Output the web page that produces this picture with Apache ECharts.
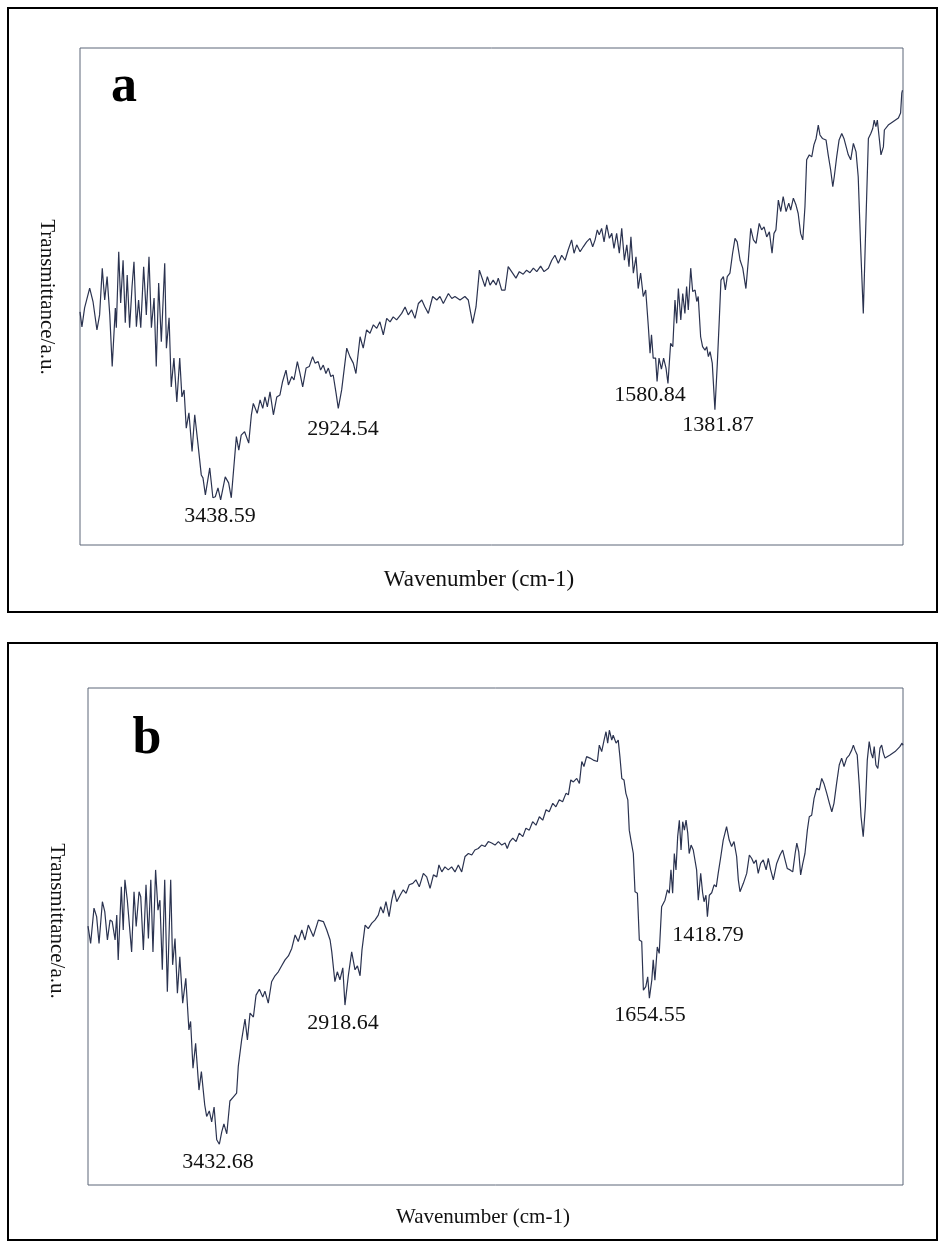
<!DOCTYPE html>
<html>
<head>
<meta charset="utf-8">
<script src="https://cdn.jsdelivr.net/npm/echarts@6/dist/echarts.min.js"></script>
<style>
html,body{margin:0;padding:0;background:#ffffff;}
#chart{width:938px;height:1245px;}
</style>
</head>
<body>
<div id="chart"></div>
<script>
// ---------- DATA ----------
// Panel a: wavenumber (cm-1) and transmittance (a.u., 0-100 across the plot box)
const waveA = [4000,3992,3981,3960,3946,3930,3919,3908,3898,3888,3877,3867,3854,3850,3840,3832,3822,3813,3805,3795,3785,3777,3767,3758,3749,3737,3726,3715,3705,3694,3685,3675,3664,3650,3643,3632,3623,3612,3600,3588,3579,3570,3561,3550,3537,3526,3513,3499,3492,3482,3464,3451,3441,3430,3419,3400,3386,3375,3354,3344,3334,3320,3303,3292,3284,3268,3256,3245,3236,3226,3215,3201,3187,3174,3163,3149,3139,3125,3116,3102,3091,3080,3066,3053,3039,3029,3016,3006,2995,2984,2974,2964,2954,2942,2933,2919,2898,2885,2871,2860,2843,2830,2816,2802,2788,2774,2761,2747,2733,2719,2706,2692,2671,2657,2644,2630,2616,2602,2588,2575,2561,2543,2526,2513,2499,2478,2464,2451,2430,2410,2396,2378,2364,2350,2327,2317,2306,2293,2281,2272,2258,2244,2231,2217,2199,2185,2169,2155,2141,2127,2113,2097,2083,2065,2051,2038,2024,2010,1996,1983,1969,1959,1948,1934,1921,1907,1893,1882,1872,1863,1855,1845,1835,1824,1813,1803,1794,1783,1772,1762,1751,1741,1732,1724,1714,1703,1694,1684,1673,1663,1652,1645,1639,1632,1622,1616,1608,1598,1589,1579,1571,1560,1551,1542,1535,1528,1518,1510,1501,1494,1487,1477,1469,1459,1452,1446,1436,1428,1418,1411,1404,1397,1388,1377,1367,1359,1352,1342,1334,1326,1315,1304,1294,1285,1273,1262,1249,1239,1229,1218,1207,1194,1184,1174,1163,1152,1141,1133,1125,1115,1105,1095,1083,1072,1064,1053,1042,1033,1023,1014,1005,998,987,977,968,959,950,943,933,925,918,909,899,890,884,874,864,853,844,836,826,816,805,794,785,775,764,753,743,733,725,719,712,706,698,691,681,677,661,640,619,610,605,602];
const transA = [46.9,43.9,47.7,51.7,48.9,43.3,46.3,55.7,49.3,54.0,46.3,35.9,47.7,43.7,59.0,48.7,57.3,44.7,54.3,43.7,52.0,57.0,43.9,49.3,43.7,56.0,46.3,58.0,43.7,49.7,35.9,52.7,40.9,56.7,39.6,45.7,31.8,37.6,28.8,37.6,29.8,31.2,23.5,26.6,18.8,26.2,20.5,14.1,13.5,10.1,15.5,9.5,9.7,11.5,9.1,13.7,12.5,9.5,21.8,19.1,22.1,22.8,20.5,26.2,28.5,26.5,29.2,27.5,29.8,27.8,30.8,26.2,29.8,30.2,32.9,35.2,32.2,33.9,33.2,36.9,34.5,31.8,35.6,35.9,37.9,36.6,36.9,35.2,36.2,34.5,35.6,33.9,34.2,30.5,27.5,31.2,39.6,37.9,36.6,34.5,41.9,39.6,43.3,42.6,44.3,43.6,44.9,42.3,45.6,44.9,45.9,45.3,46.6,47.9,46.3,47.3,45.6,48.6,49.3,47.9,46.6,50.0,49.3,50.0,48.6,50.6,49.6,50.0,49.3,50.0,49.3,44.6,47.9,55.3,52.0,54.0,52.3,53.3,52.3,53.7,51.3,51.3,56.0,55.0,53.7,55.0,54.5,55.3,54.8,55.7,55.0,56.1,55.0,55.7,57.3,58.3,56.7,58.3,57.3,59.4,61.4,58.7,60.4,59.0,60.0,61.0,61.7,60.0,61.4,63.4,62.4,63.7,61.0,64.4,61.7,62.7,59.7,62.7,58.7,63.7,57.3,60.4,56.0,62.0,54.7,58.0,51.6,54.7,50.0,51.3,43.9,38.6,42.3,37.6,37.6,32.9,37.6,35.4,37.6,35.6,32.5,40.6,39.9,49.3,44.6,51.6,45.3,50.6,46.6,52.0,47.3,55.7,51.0,51.3,49.0,50.0,41.9,39.9,39.2,39.9,37.9,38.9,36.6,27.2,36.6,45.3,53.3,54.0,51.3,54.0,54.7,58.7,61.7,61.0,57.3,55.7,51.6,57.3,63.7,61.4,60.7,64.7,63.4,64.0,62.0,63.0,58.7,62.7,63.4,69.4,67.1,70.1,67.1,68.8,67.4,69.8,68.4,66.7,62.7,61.4,68.1,77.5,78.5,78.1,80.5,81.8,84.5,82.5,81.8,82.2,81.5,78.5,75.5,72.1,74.1,78.1,81.5,82.8,81.8,81.5,78.5,77.5,80.8,79.1,74.1,60.0,46.6,65.4,81.8,82.8,83.8,85.5,84.2,85.5,81.8,78.5,80.1,83.5,84.5,85.2,85.9,86.9,90.9,91.5];

// Panel b
const waveB = [4000,3989,3975,3964,3954,3940,3930,3919,3908,3899,3887,3880,3874,3861,3853,3846,3836,3829,3818,3808,3799,3787,3780,3769,3758,3748,3738,3729,3718,3708,3700,3690,3680,3669,3655,3647,3637,3627,3617,3605,3592,3579,3572,3562,3551,3537,3527,3513,3505,3494,3484,3474,3463,3452,3442,3433,3421,3408,3394,3380,3373,3359,3345,3335,3324,3310,3299,3285,3271,3262,3248,3234,3220,3206,3192,3178,3164,3150,3136,3123,3108,3095,3081,3060,3039,3018,3004,2990,2983,2970,2960,2949,2937,2928,2914,2900,2886,2876,2865,2857,2844,2831,2816,2803,2789,2779,2768,2757,2744,2733,2723,2712,2698,2685,2673,2660,2645,2632,2618,2601,2587,2573,2559,2545,2536,2524,2511,2497,2483,2469,2455,2441,2427,2413,2399,2386,2372,2358,2344,2330,2316,2302,2288,2274,2260,2251,2240,2228,2214,2201,2186,2173,2159,2145,2131,2117,2103,2089,2076,2061,2048,2034,2020,2006,1996,1986,1975,1961,1950,1940,1931,1920,1906,1892,1875,1867,1857,1847,1839,1832,1825,1815,1809,1797,1788,1781,1773,1764,1756,1748,1742,1735,1725,1718,1708,1700,1690,1683,1673,1665,1658,1648,1642,1635,1625,1617,1607,1593,1583,1575,1568,1561,1554,1547,1540,1533,1526,1519,1512,1505,1498,1492,1484,1475,1461,1454,1444,1436,1430,1422,1416,1408,1398,1388,1379,1371,1360,1350,1336,1325,1315,1305,1294,1287,1280,1266,1252,1241,1231,1222,1213,1204,1194,1183,1171,1162,1152,1141,1127,1113,1102,1092,1083,1071,1060,1050,1043,1035,1027,1018,1009,999,991,981,971,960,949,939,930,918,907,897,888,877,866,856,846,835,824,814,807,800,791,782,775,766,757,749,741,733,726,720,713,705,696,689,682,675,654,633,613,604,600];
const transB = [52.1,48.6,55.7,54.0,48.6,57.0,55.0,49.3,53.3,53.0,49.3,54.3,45.3,60.0,51.3,61.4,57.3,57.7,46.9,59.0,52.0,59.0,58.0,47.3,60.4,49.6,61.4,46.9,63.4,55.3,57.3,43.3,61.4,38.9,61.4,44.3,49.6,38.6,45.9,36.6,41.6,31.2,32.9,23.5,28.5,19.1,22.8,16.1,13.8,14.9,12.7,15.7,9.1,8.2,10.7,12.3,10.3,16.9,17.7,18.5,23.9,29.2,33.4,29.2,34.6,33.8,38.2,39.4,37.8,39.0,36.6,40.9,42.1,42.9,44.1,45.3,46.1,47.6,50.3,49.0,51.3,49.3,52.3,50.0,53.3,53.0,51.3,49.3,46.9,40.9,42.9,41.3,43.7,36.2,42.1,46.9,43.3,44.1,42.1,47.3,52.3,51.6,52.7,53.3,54.3,56.0,54.7,57.0,54.0,57.3,59.4,57.0,58.3,59.4,58.7,60.4,60.7,61.4,60.0,62.7,62.0,59.7,62.4,62.0,64.4,63.0,64.0,63.4,64.0,63.0,64.4,63.0,66.1,66.7,66.4,67.4,67.7,68.4,68.1,69.1,68.8,68.4,69.1,68.4,68.8,67.7,69.1,69.8,69.1,70.8,70.1,71.8,71.4,73.1,72.4,74.1,73.4,75.5,75.1,76.8,76.1,77.5,77.1,78.8,78.5,81.5,81.1,81.8,80.8,85.2,84.2,86.2,85.9,85.5,85.2,88.5,87.2,89.5,91.2,88.9,91.5,89.5,90.5,88.9,89.5,86.2,81.8,81.5,78.8,77.5,71.4,69.4,66.7,59.0,58.7,49.3,49.0,39.2,39.9,41.9,37.6,41.2,45.3,41.2,47.9,46.6,56.0,57.3,59.4,58.7,63.4,58.7,66.7,63.4,70.1,73.4,67.4,73.1,71.4,73.4,70.8,66.7,68.4,67.4,63.4,57.3,62.7,58.8,57.0,58.3,54.0,58.3,58.8,60.4,60.0,62.7,66.1,69.4,72.1,69.4,68.1,69.1,66.1,61.4,59.0,60.7,62.7,66.4,65.7,64.7,65.4,62.7,64.7,65.4,63.4,65.7,63.4,61.4,64.7,66.4,67.4,65.4,63.7,63.4,63.0,66.7,68.8,67.1,62.4,64.7,66.7,71.4,74.1,74.4,77.8,79.8,79.5,81.8,80.8,78.8,76.8,75.1,76.8,80.8,84.5,85.9,84.2,85.9,86.5,87.5,88.5,87.5,86.5,80.1,74.1,70.1,76.1,85.5,89.2,86.9,85.9,88.2,84.5,83.8,87.9,88.5,86.9,85.9,86.5,87.2,88.2,88.9,88.5];

// Peak annotations (text)
const peaksA = ['3438.59', '2924.54', '1580.84', '1381.87'];
const peaksB = ['3432.68', '2918.64', '1654.55', '1418.79'];
const panelLetters = ['a', 'b'];
const xTitle = 'Wavenumber (cm-1)';
const yTitle = 'Transmittance/a.u.';

// ---------- CHART ----------
const chart = echarts.init(document.getElementById('chart'), null, {renderer: 'canvas'});
const pairs = (xs, ys) => xs.map((x, i) => [x, ys[i]]);

const lineColor = '#2b3350';
const boxColor = '#5d6678';
const serif = '"Liberation Serif", "DejaVu Serif", serif';

function txt(x, y, text, size, opts) {
  return Object.assign({
    type: 'text', x: x, y: y, silent: true,
    style: {text: text, fill: '#111', font: size + 'px ' + serif, textAlign: 'center', textVerticalAlign: 'middle'}
  }, opts || {});
}
function letter(x, y, text) {
  return {type: 'text', x: x, y: y, silent: true,
    style: {text: text, fill: '#000', font: 'bold 52px ' + serif, textAlign: 'center', textVerticalAlign: 'middle'}};
}

const option = {
  backgroundColor: '#ffffff',
  animation: false,
  grid: [
    {left: 80, top: 48, width: 823, height: 497, show: true, borderColor: boxColor, borderWidth: 1, backgroundColor: 'transparent'},
    {left: 88, top: 688, width: 815, height: 497, show: true, borderColor: boxColor, borderWidth: 1, backgroundColor: 'transparent'}
  ],
  xAxis: [
    {type: 'value', gridIndex: 0, min: 600, max: 4000, inverse: true, show: false},
    {type: 'value', gridIndex: 1, min: 600, max: 4000, inverse: true, show: false}
  ],
  yAxis: [
    {type: 'value', gridIndex: 0, min: 0, max: 100, show: false},
    {type: 'value', gridIndex: 1, min: 0, max: 100, show: false}
  ],
  series: [
    {type: 'line', xAxisIndex: 0, yAxisIndex: 0, data: pairs(waveA, transA), showSymbol: false, smooth: false,
     lineStyle: {color: lineColor, width: 1.2}},
    {type: 'line', xAxisIndex: 1, yAxisIndex: 1, data: pairs(waveB, transB), showSymbol: false, smooth: false,
     lineStyle: {color: lineColor, width: 1.2}}
  ],
  graphic: [
    // outer panel frames
    {type: 'rect', shape: {x: 8, y: 8, width: 929, height: 604}, style: {fill: 'none', stroke: '#000', lineWidth: 2}, silent: true},
    {type: 'rect', shape: {x: 8, y: 643, width: 929, height: 597}, style: {fill: 'none', stroke: '#000', lineWidth: 2}, silent: true},
    // panel letters
    letter(124, 88, panelLetters[0]),
    letter(147, 740, panelLetters[1]),
    // axis titles
    txt(479, 580, xTitle, 23),
    txt(483, 1217, xTitle, 21),
    txt(47, 297, yTitle, 21, {rotation: -Math.PI / 2}),
    txt(57, 921, yTitle, 21, {rotation: -Math.PI / 2}),
    // peak labels, panel a
    txt(220, 516, peaksA[0], 22),
    txt(343, 429, peaksA[1], 22),
    txt(650, 395, peaksA[2], 22),
    txt(718, 425, peaksA[3], 22),
    // peak labels, panel b
    txt(218, 1162, peaksB[0], 22),
    txt(343, 1023, peaksB[1], 22),
    txt(650, 1015, peaksB[2], 22),
    txt(708, 935, peaksB[3], 22)
  ]
};
chart.setOption(option);
</script>
</body>
</html>
